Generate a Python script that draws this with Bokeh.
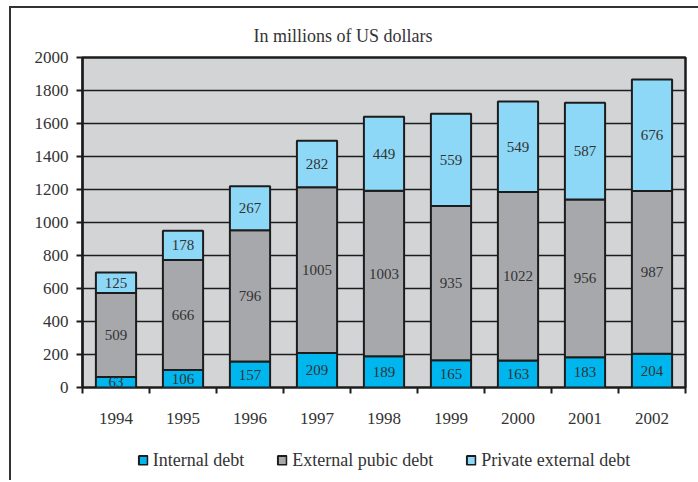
import numpy as np
from bokeh.plotting import figure
from bokeh.layouts import column
from bokeh.models import (Range1d, LinearAxis, FixedTicker, Legend, ColumnDataSource,
                          Title, CustomJSTickFormatter)
from bokeh.core.properties import value
from bokeh.embed import file_html
from bokeh.resources import INLINE

# ---- data ----
years = ["1994", "1995", "1996", "1997", "1998", "1999", "2000", "2001", "2002"]
internal = [63, 106, 157, 209, 189, 165, 163, 183, 204]
external = [509, 666, 796, 1005, 1003, 935, 1022, 956, 987]
private = [125, 178, 267, 282, 449, 559, 549, 587, 676]
series_names = ["Internal debt", "External pubic debt", "Private external debt"]
y_ticks = [0, 200, 400, 600, 800, 1000, 1200, 1400, 1600, 1800, 2000]
title_text = "In millions of US dollars"

colors = ["#00B6EF", "#A7A8AB", "#8DD8F6"]
FONT = "Liberation Serif"
TXT = "#333333"
DARK = "#1c1c1c"

n = len(years)
xpos = np.arange(n) + 0.5          # category centres on a 0..n scale
edges = list(range(n + 1))          # category boundaries

src = ColumnDataSource(dict(x=xpos, internal=internal, external=external, private=private))

p = figure(width=687, height=432, x_range=Range1d(0, n), y_range=Range1d(0, 2000),
           output_backend="svg", toolbar_location=None,
           x_axis_location=None, y_axis_location="left",
           min_border_left=71, min_border_right=13, min_border_top=49, min_border_bottom=53,
           background_fill_color="#D3D4D6", border_fill_color="white",
           outline_line_color=DARK, outline_line_width=2.5)

for g in p.grid:
    if g.dimension == 0:
        g.visible = False

p.title = Title(text=title_text, align="left", offset=171, text_font=FONT,
                text_font_style="normal", text_font_size="18px", text_color=TXT, standoff=23)

# y axis & grid
yax = p.yaxis[0]
yax.ticker = FixedTicker(ticks=y_ticks)
yax.major_tick_out = 6
yax.major_tick_in = 0
yax.major_tick_line_color = DARK
yax.major_tick_line_width = 2
yax.minor_tick_line_color = None
yax.axis_line_color = DARK
yax.axis_line_width = 2
yax.major_label_standoff = 8
yax.major_label_text_font = FONT
yax.major_label_text_font_size = "17px"
yax.major_label_text_color = TXT
p.ygrid.ticker = FixedTicker(ticks=y_ticks)
p.ygrid.grid_line_color = DARK
p.ygrid.grid_line_width = 1.6

# boundary ticks axis (no labels)
edge_axis = LinearAxis(ticker=FixedTicker(ticks=edges),
                       formatter=CustomJSTickFormatter(code="return ''"),
                       major_tick_out=6, major_tick_in=0, minor_tick_line_color=None,
                       axis_line_color=None, major_label_standoff=0,
                       major_tick_line_color=DARK, major_tick_line_width=2)
p.add_layout(edge_axis, "below")

# year labels axis (no ticks)
year_axis = LinearAxis(ticker=FixedTicker(ticks=list(xpos)),
                       major_label_overrides={float(c): y for c, y in zip(xpos, years)},
                       major_tick_line_color=None, minor_tick_line_color=None,
                       axis_line_color=None, major_label_standoff=13,
                       major_label_text_font=FONT, major_label_text_font_size="17px",
                       major_label_text_color=TXT)
p.add_layout(year_axis, "below")

# stacked bars
renderers = p.vbar_stack(["internal", "external", "private"], x="x", width=0.6,
                         fill_color=colors, line_color=DARK, line_width=2, source=src)

# segment labels
inter = np.array(internal, dtype=float)
ext = np.array(external, dtype=float)
pri = np.array(private, dtype=float)
lab_x = list(xpos) * 3
lab_y = list(inter / 2) + list(inter + ext / 2) + list(inter + ext + pri / 2)
lab_t = [str(v) for v in internal + external + private]
p.text(x=lab_x, y=lab_y, text=lab_t, text_align="center", text_baseline="middle",
       text_font=value(FONT), text_font_size="15px", text_color=TXT)

# ---- legend strip below the chart ----
lf = figure(width=687, height=40, x_range=Range1d(0, 1), y_range=Range1d(0, 1),
            output_backend="svg", toolbar_location=None,
            x_axis_location=None, y_axis_location=None,
            min_border_left=47, min_border_right=0, min_border_top=0, min_border_bottom=0,
            outline_line_color=None, background_fill_color="white", border_fill_color="white")
for g in lf.grid:
    g.visible = False
# swatch-only renderers (no visible marks; they exist just to feed the legend)
swatches = [lf.vbar(x=[np.nan], top=[np.nan], width=0.1, fill_color=c,
                    line_color=DARK, line_width=2) for c in colors]
legend = Legend(items=[(nm, [r]) for nm, r in zip(series_names, swatches)],
                orientation="horizontal", location="center",
                glyph_width=11, glyph_height=11, label_height=16, spacing=32,
                label_standoff=5, padding=4, margin=0,
                border_line_color=None, background_fill_alpha=0,
                label_text_font=FONT, label_text_font_size="18px", label_text_color=TXT)
lf.add_layout(legend, "center")

layout = column(p, lf, spacing=0,
                styles={"margin-left": "9px", "margin-top": "6px",
                        "border-left": "2px solid #333", "border-top": "2px solid #333"})

open("out.html", "w").write(file_html(layout, INLINE))
